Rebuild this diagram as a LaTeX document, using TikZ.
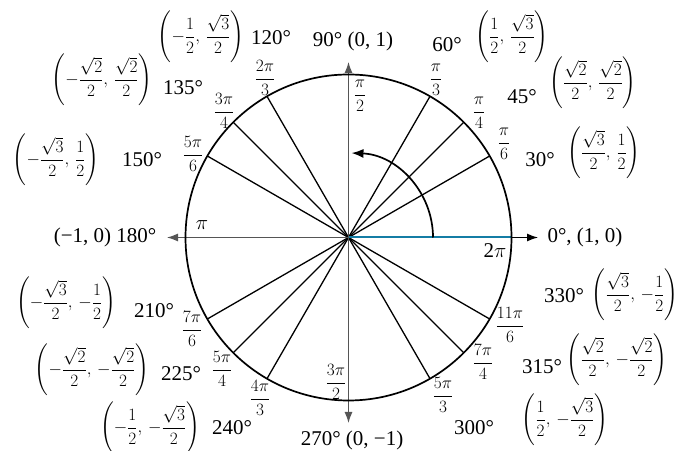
\documentclass[tikz,border=0pt]{standalone}
\usepackage{amsmath}
\usepackage{fontspec}
\setmainfont{Liberation Serif}
\usetikzlibrary{arrows.meta}
\definecolor{axisgray}{RGB}{85,85,85}
\definecolor{unitblue}{RGB}{20,125,165}
\begin{document}
\begin{tikzpicture}[x=1pt,y=1pt,
  deg/.style={inner sep=0pt, font=\fontsize{21}{24}\selectfont},
  afrac/.style={inner sep=0pt, font=\fontsize{16}{19}\selectfont},
  cfrac/.style={inner sep=0pt, font=\fontsize{16}{19}\selectfont},
  radial/.style={line width=1.3pt},
  tip/.style={-{Latex[length=11pt,width=8pt]}},
  axis/.style={line width=1.2pt, draw=axisgray, tip},
]
\useasboundingbox (0,0) rectangle (683,450);
\coordinate (O) at (348.5,212.5);
\foreach \a in {0,30,45,60,120,135,150,210,225,240,300,315,330}
  \path (O) ++(\a:163) coordinate (p\a);
\coordinate (L) at (167,212.5);
\coordinate (Rt) at (538,212.5);
\coordinate (T) at (348.5,388);
\coordinate (B) at (348.5,27);
\coordinate (arcS) at (433,212.5);

% radial lines
\foreach \a in {30,45,60,120,135,150,210,225,240,300,315,330}
  \draw[radial] (O) -- (p\a);
% axes
\draw[axis] (O) -- (L);
\draw[axis] (O) -- (T);
\draw[axis] (O) -- (B);
\draw[line width=1.2pt, tip] (p0) -- (Rt);
\draw[unitblue, line width=2pt] (O) -- (p0);
% circle
\draw[line width=1.7pt] (O) circle (163);
% rotation arrow
\draw[line width=1.7pt, -{Latex[length=12pt,width=9pt]}] (arcS) arc[start angle=0, end angle=88, radius=84.5];

% angle labels (radians)
\node[afrac] (r90)  at (360,354) {$\dfrac{\pi}{2}$};
\node[afrac] (r60)  at (436,370) {$\dfrac{\pi}{3}$};
\node[afrac] (r45)  at (479,337) {$\dfrac{\pi}{4}$};
\node[afrac] (r30)  at (504,306) {$\dfrac{\pi}{6}$};
\node[afrac] (r120) at (265,372) {$\dfrac{2\pi}{3}$};
\node[afrac] (r135) at (224,339) {$\dfrac{3\pi}{4}$};
\node[afrac] (r150) at (193,296) {$\dfrac{5\pi}{6}$};
\node[deg]   (r180) at (202,225) {$\pi$};
\node[deg]   (r360) at (495,199) {2$\pi$};
\node[afrac] (r210) at (192,121) {$\dfrac{7\pi}{6}$};
\node[afrac] (r225) at (222,81)  {$\dfrac{5\pi}{4}$};
\node[afrac] (r240) at (260,52)  {$\dfrac{4\pi}{3}$};
\node[afrac] (r270) at (336,68)  {$\dfrac{3\pi}{2}$};
\node[afrac] (r300) at (443,55)  {$\dfrac{5\pi}{3}$};
\node[afrac] (r315) at (483,88)  {$\dfrac{7\pi}{4}$};
\node[afrac] (r330) at (510,125) {$\dfrac{11\pi}{6}$};

% degree labels
\node[deg] (d90)  at (353,409) {90° (0, 1)};
\node[deg] (d60)  at (447,405) {60°};
\node[deg] (d45)  at (522,353) {45°};
\node[deg] (d30)  at (540,290) {30°};
\node[deg] (d0)   at (585,213) {0°, (1, 0)};
\node[deg] (d330) at (564,154) {330°};
\node[deg] (d315) at (542,83)  {315°};
\node[deg] (d300) at (474,22)  {300°};
\node[deg] (d270) at (352,10)  {270° (0, −1)};
\node[deg] (d240) at (232,22)  {240°};
\node[deg] (d225) at (181,76)  {225°};
\node[deg] (d210) at (154,139) {210°};
\node[deg] (d180) at (105,213) {(−1, 0) 180°};
\node[deg] (d150) at (142,290) {150°};
\node[deg] (d135) at (183,362) {135°};
\node[deg] (d120) at (271,412) {120°};

% coordinate labels
\node[cfrac] (c60)  at (512,413) {$\left(\dfrac{1}{2},\,\dfrac{\sqrt{3}}{2}\right)$};
\node[cfrac] (c45)  at (593,367) {$\left(\dfrac{\sqrt{2}}{2},\,\dfrac{\sqrt{2}}{2}\right)$};
\node[cfrac] (c30)  at (604,297) {$\left(\dfrac{\sqrt{3}}{2},\,\dfrac{1}{2}\right)$};
\node[cfrac] (c330) at (635,155) {$\left(\dfrac{\sqrt{3}}{2},\,-\dfrac{1}{2}\right)$};
\node[cfrac] (c315) at (617,90)  {$\left(\dfrac{\sqrt{2}}{2},\,-\dfrac{\sqrt{2}}{2}\right)$};
\node[cfrac] (c300) at (565,30)  {$\left(\dfrac{1}{2},\,-\dfrac{\sqrt{3}}{2}\right)$};
\node[cfrac] (c240) at (150,22)  {$\left(-\dfrac{1}{2},\,-\dfrac{\sqrt{3}}{2}\right)$};
\node[cfrac] (c225) at (92,80)   {$\left(-\dfrac{\sqrt{2}}{2},\,-\dfrac{\sqrt{2}}{2}\right)$};
\node[cfrac] (c210) at (66,147)  {$\left(-\dfrac{\sqrt{3}}{2},\,-\dfrac{1}{2}\right)$};
\node[cfrac] (c150) at (56,290)  {$\left(-\dfrac{\sqrt{3}}{2},\,\dfrac{1}{2}\right)$};
\node[cfrac] (c135) at (102,370) {$\left(-\dfrac{\sqrt{2}}{2},\,\dfrac{\sqrt{2}}{2}\right)$};
\node[cfrac] (c120) at (201,413) {$\left(-\dfrac{1}{2},\,\dfrac{\sqrt{3}}{2}\right)$};
\end{tikzpicture}
\end{document}
